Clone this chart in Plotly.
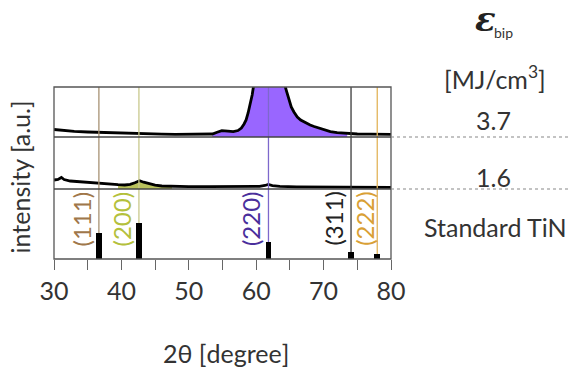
import numpy as np
import plotly.graph_objects as go

# ---------------- data ----------------
# XRD pattern, E_bip = 3.7 MJ/cm^3 (top panel)
tt_37 = [30, 30.5, 31, 32, 33, 35, 37, 40, 42, 44, 46, 48, 50, 52, 53.5, 54.2, 54.9, 55.8,
         56.6, 57.3, 57.8, 58.2, 58.5, 58.8, 59.1, 59.4, 59.7, 60.2, 61, 61.8, 62.6, 63.5,
         64.0, 64.4, 64.8, 65.2, 65.6, 66.1, 66.6, 67.1, 67.5, 68, 68.6, 69.2, 70, 71, 72,
         73.5, 75, 77, 80]
int_37 = [7.5, 7.2, 6.6, 6.0, 5.6, 5.0, 4.5, 4.0, 3.6, 3.2, 2.9, 2.7, 2.6, 2.6, 3.0, 4.8, 6.4,
          5.9, 5.4, 6.5, 9.0, 13, 17, 24, 32, 42, 55, 80, 105, 115, 105, 80, 60, 48, 38, 30,
          25, 20, 17, 15, 14, 12, 10.5, 9, 7, 5.3, 4.3, 3.6, 3.0, 2.8, 2.7]

# XRD pattern, E_bip = 1.6 MJ/cm^3 (middle panel)
tt_16 = [30, 30.6, 31.1, 31.5, 32.4, 34, 35.5, 36.8, 38, 39.5, 40.5, 41.3, 42, 42.7, 43.3,
         44.2, 45, 46, 47.5, 50, 53, 56, 59, 60.5, 61.3, 61.8, 62.4, 63.5, 66, 70, 74, 77, 80]
int_16 = [9, 9.5, 11.5, 9.5, 8, 7, 6.2, 5.6, 5, 4.3, 4, 4.6, 6.2, 8.2, 6.8, 4.8, 3.8, 3,
          2.5, 2.3, 2.3, 2.3, 2.3, 2.6, 3.5, 4.5, 3.4, 2.6, 2.2, 2.0, 1.9, 1.8, 1.7]

# Standard TiN reference peaks
ref_hkl = ["(111)", "(200)", "(220)", "(311)", "(222)"]
ref_tt = [36.66, 42.60, 61.82, 74.07, 77.96]
ref_int = [72, 100, 47, 19, 14]
ref_line_colors = ["#a89274", "#c9c88c", "#7d68cc", "#3a3a3a", "#e2b45a"]
ref_text_colors = ["#a0774a", "#b4c03c", "#4a2f9c", "#222222", "#d9a035"]

energies = ["3.7", "1.6"]
x_range = [30, 80]
x_ticks = [30, 35, 40, 45, 50, 55, 60, 65, 70, 75, 80]
x_tick_text = ["30", "", "40", "", "50", "", "60", "", "70", "", "80"]

# fill regions
fill_37 = (53.5, 73.5)
fill_16 = (39.5, 47.5)

# ---------------- figure ----------------
FONT = "Lato"
TXT = "#333333"
dom_bot = [0, 70 / 172]
dom_mid = [70 / 172, 122 / 172]
dom_top = [122 / 172, 1]

fig = go.Figure()

a37x, a37y = np.array(tt_37), np.array(int_37)
m = (a37x >= fill_37[0]) & (a37x <= fill_37[1])
fig.add_trace(go.Scatter(x=a37x[m], y=a37y[m], mode="lines", line=dict(width=0),
                         fill="tozeroy", fillcolor="#9966ff", yaxis="y3", hoverinfo="skip"))
fig.add_trace(go.Scatter(x=tt_37, y=int_37, mode="lines", line=dict(color="black", width=2.8),
                         yaxis="y3"))

a16x, a16y = np.array(tt_16), np.array(int_16)
m = (a16x >= fill_16[0]) & (a16x <= fill_16[1])
fig.add_trace(go.Scatter(x=a16x[m], y=a16y[m], mode="lines", line=dict(width=0),
                         fill="tozeroy", fillcolor="#b9c25c", yaxis="y2", hoverinfo="skip"))
fig.add_trace(go.Scatter(x=tt_16, y=int_16, mode="lines", line=dict(color="black", width=2.8),
                         yaxis="y2"))

fig.add_trace(go.Bar(x=ref_tt, y=ref_int, width=0.85, marker=dict(color="black", line=dict(width=0)),
                     yaxis="y"))

# vertical reference lines: below the bars in the bottom panel, above fills in the upper panels
for t, c in zip(ref_tt, ref_line_colors):
    fig.add_shape(type="line", xref="x", yref="paper", x0=t, x1=t, y0=0, y1=dom_bot[1],
                  line=dict(color=c, width=1.3), layer="below")
    fig.add_shape(type="line", xref="x", yref="paper", x0=t, x1=t, y0=dom_bot[1], y1=1,
                  line=dict(color=c, width=1.3), layer="above")

# frame and separators
fig.add_shape(type="rect", xref="paper", yref="paper", x0=0, x1=1, y0=0, y1=1,
              line=dict(color="#555555", width=1.3), layer="above")
for yv in [dom_mid[0], dom_top[0]]:
    fig.add_shape(type="line", xref="paper", yref="paper", x0=0, x1=1, y0=yv, y1=yv,
                  line=dict(color="#444444", width=1.3), layer="above")
    fig.add_shape(type="line", xref="paper", yref="paper", x0=1, x1=(568 - 54) / 337,
                  y0=yv, y1=yv, line=dict(color="#888888", width=1.2, dash="dot"))


def note(text, x, y, size, color=TXT, family=FONT, angle=0, xshift=0):
    fig.add_annotation(x=x, y=y, xref="paper", yref="paper", text=text, showarrow=False,
                       xanchor="center", yanchor="middle", textangle=angle, xshift=xshift,
                       font=dict(family=family, size=size, color=color))


# hkl labels (positioned from the peak positions through the x range)
shifts = [-17, -17, -18, -17, -13]
for t, lab, c, s in zip(ref_tt, ref_hkl, ref_text_colors, shifts):
    px = (t - x_range[0]) / (x_range[1] - x_range[0])
    note(lab, px, 0.235, 24, color=c, angle=-90, xshift=s)

# right side labels
note(energies[0], 1.303, 0.807, 25)
note(energies[1], 1.303, 0.478, 25)
note("Standard TiN", 1.309, 0.186, 25)
note("[MJ/cm<sup>3</sup>]", 1.309, 1.058, 25)
note("<b><i>ε</i></b>", 1.279, 1.395, 34, color="#222222", family="DejaVu Serif")
note("bip", 1.335, 1.314, 14)

# axis titles
note("2θ [degree]", 0.51, -0.547, 25)
note("intensity [a.u.]", -0.101, 0.48, 25, angle=-90)

fig.update_layout(
    width=568, height=369,
    margin=dict(l=54, r=177, t=87, b=110),
    paper_bgcolor="white", plot_bgcolor="white",
    showlegend=False, bargap=0,
    xaxis=dict(range=x_range, tickvals=x_ticks, ticktext=x_tick_text, ticks="outside",
               ticklen=10, tickwidth=1.3, tickcolor="#666666", showgrid=False, zeroline=False,
               showline=False, tickfont=dict(family=FONT, size=25, color=TXT), anchor="y"),
    yaxis=dict(domain=dom_bot, range=[0, 195], showticklabels=False, ticks="", showgrid=False,
               zeroline=False, showline=False),
    yaxis2=dict(domain=dom_mid, range=[0, 52], showticklabels=False, ticks="", showgrid=False,
                zeroline=False, showline=False, anchor="x"),
    yaxis3=dict(domain=dom_top, range=[0, 50], showticklabels=False, ticks="", showgrid=False,
                zeroline=False, showline=False, anchor="x"),
)

fig.write_html("out.html", config={"displayModeBar": False},
               post_script="document.body.style.margin='0';")
